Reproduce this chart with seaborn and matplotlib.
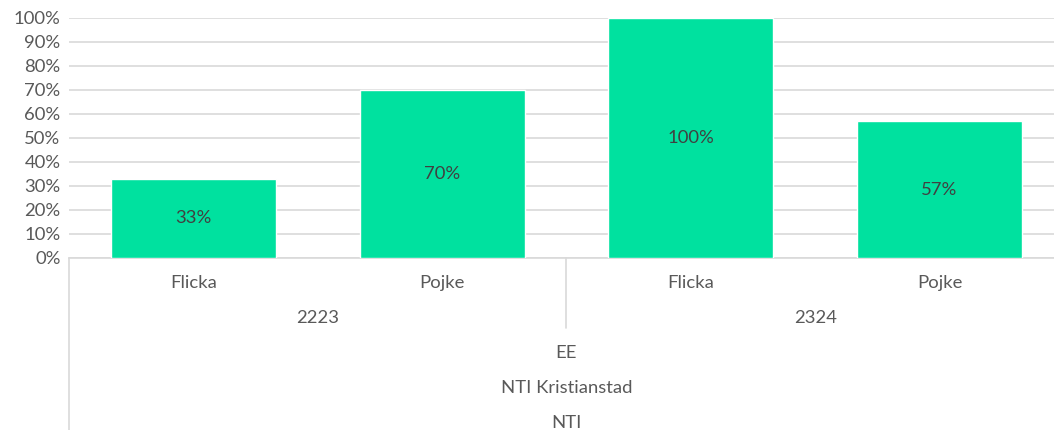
import pandas as pd
import seaborn as sns
import matplotlib.pyplot as plt
from matplotlib.ticker import PercentFormatter
from matplotlib.lines import Line2D

kon = ['Flicka', 'Pojke', 'Flicka', 'Pojke']
lasar = ['2223', '2324']
andel = [0.33, 0.70, 1.00, 0.57]
etiketter = ['33%', '70%', '100%', '57%']
niva = ['EE', 'NTI Kristianstad', 'NTI']

sns.set_style('white')
plt.rcParams['font.family'] = ['Lato', 'DejaVu Sans']
grå = '#595959'
linje = '#d9d9d9'
fs = 13.3

df = pd.DataFrame({'pos': range(len(kon)), 'andel': andel})

fig = plt.figure(figsize=(10.54, 4.30), dpi=100)
ax = fig.add_axes([69 / 1054, 1 - 258 / 430, 1 - 69 / 1054, 240 / 430])
sns.barplot(data=df, x='pos', y='andel', color='#00E19F', saturation=1,
            width=0.663, ax=ax, zorder=3)

ax.set_ylim(0, 1)
ax.set_xlim(-0.5, 3.46)
ax.set_yticks([i / 10 for i in range(11)])
ax.yaxis.set_major_formatter(PercentFormatter(1.0, decimals=0))
ax.tick_params(axis='y', length=0, labelsize=fs, labelcolor=grå, pad=6)
ax.set_xticks([])
ax.set_xlabel('')
ax.set_ylabel('')
ax.grid(axis='y', color=linje, linewidth=1.2, zorder=0)
for s in ['top', 'right', 'left']:
    ax.spines[s].set_visible(False)
ax.spines['bottom'].set_color(linje)
ax.spines['bottom'].set_linewidth(1.2)

for i, (v, t) in enumerate(zip(andel, etiketter)):
    ax.text(i, v / 2, t, ha='center', va='center', fontsize=fs, color='#404040')

tr = ax.get_xaxis_transform()
px = 1 / 240  # one pixel in axes-y units
for i, k in enumerate(kon):
    ax.text(i, -25 * px, k, transform=tr, ha='center', va='center',
            fontsize=fs, color=grå)
for j, l in enumerate(lasar):
    ax.text(2 * j + 0.5, -60 * px, l, transform=tr, ha='center', va='center',
            fontsize=fs, color=grå)
for j, n in enumerate(niva):
    ax.text(1.5, (-95 - 35 * j) * px, n, transform=tr, ha='center', va='center',
            fontsize=fs, color=grå)

ax.add_line(Line2D([-0.5, -0.5], [0, -172 * px], transform=tr, color=linje,
                   linewidth=1.2, clip_on=False))
ax.add_line(Line2D([1.5, 1.5], [0, -70 * px], transform=tr, color=linje,
                   linewidth=1.2, clip_on=False))

fig.savefig('out.png', dpi=100)
